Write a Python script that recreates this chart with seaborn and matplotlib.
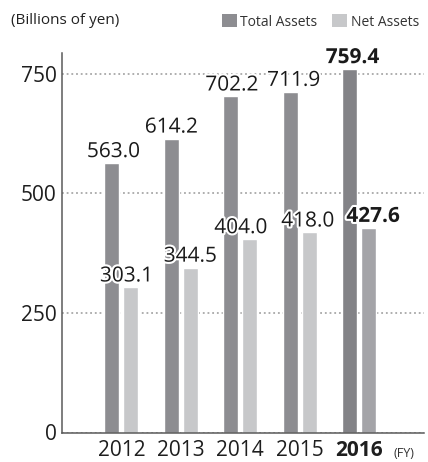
import matplotlib
matplotlib.use("Agg")
import matplotlib.pyplot as plt
import matplotlib.patheffects as pe
from matplotlib.patches import Patch
import seaborn as sns
import pandas as pd

years = ["2012", "2013", "2014", "2015", "2016"]
total_assets = [563.0, 614.2, 702.2, 711.9, 759.4]
net_assets = [303.1, 344.5, 404.0, 418.0, 427.6]
series = ["Total Assets", "Net Assets"]
y_ticks = [0, 250, 500, 750]

sns.set_theme(style="white")
plt.rcParams["font.family"] = ["Open Sans", "DejaVu Sans"]

df = pd.DataFrame({
    "year": years * 2,
    "series": [series[0]] * len(years) + [series[1]] * len(years),
    "value": total_assets + net_assets,
})

c_total, c_net = "#8d8d91", "#c7c8ca"
c_total_hl, c_net_hl = "#838387", "#a4a4a8"

# small horizontal nudges of the value labels (pixels), styling only
label_nudge = [[1.5, 0, 1, 3.5, 3], [-4.5, 0, -9, -1.5, 4.5]]

fig = plt.figure(figsize=(4.28, 4.62), dpi=100)
ax = fig.add_axes([62 / 428, 29.5 / 462, 362 / 428, 379.5 / 462])

sns.barplot(data=df, x="year", y="value", hue="series", order=years,
            hue_order=series, palette=[c_total, c_net], width=0.64, gap=0.21,
            legend=False, ax=ax, saturation=1)

ax.set_xlim(-1.0, 5.09)
ax.set_ylim(0, 793)
ax.set_yticks(y_ticks)
ax.set_xlabel("")
ax.set_ylabel("")

for s in ["top", "right"]:
    ax.spines[s].set_visible(False)
for s in ["left", "bottom"]:
    ax.spines[s].set_color("#5a5a5a")
    ax.spines[s].set_linewidth(1.1)

ax.yaxis.grid(True, color="#a8a8a8", linestyle=(0, (1, 1.6)), linewidth=1.3)
ax.set_axisbelow(True)
ax.tick_params(axis="both", length=0, labelsize=15, colors="#1e1e1e")
ax.tick_params(axis="y", pad=4)
ax.tick_params(axis="x", pad=5.5)
ax.set_xticks(range(len(years)))
ax.set_xticklabels(years)
for lbl in ax.get_xticklabels():
    if lbl.get_text() == "2016":
        lbl.set_fontweight("bold")

stroke = [pe.withStroke(linewidth=3, foreground="white")]
last = len(years) - 1
for ci, (cont, vals) in enumerate(zip(ax.containers, [total_assets, net_assets])):
    for i, (bar, v) in enumerate(zip(cont, vals)):
        if i == last:
            bar.set_facecolor(c_total_hl if ci == 0 else c_net_hl)
        ax.annotate(f"{v:.1f}", (bar.get_x() + bar.get_width() / 2, bar.get_height()),
                    xytext=(label_nudge[ci][i] * 0.72, 4.3), textcoords="offset points",
                    ha="center", va="baseline", fontsize=15, color="#1a1a1a",
                    fontweight="bold" if i == last else "normal",
                    path_effects=stroke, zorder=5)

handles = [Patch(facecolor=c_total, edgecolor="none"), Patch(facecolor=c_net, edgecolor="none")]
fig.legend(handles, series, loc="center left", bbox_to_anchor=(222 / 428, 1 - 22 / 462),
           ncol=2, frameon=False, fontsize=10, handlelength=1.05, handleheight=1.05,
           handletextpad=0.25, columnspacing=1.1, borderpad=0, borderaxespad=0,
           labelcolor="#333333")

fig.text(11 / 428, 1 - 21 / 462, "(Billions of yen)", fontsize=11, color="#222222",
         ha="left", va="center")
fig.text(393 / 428, 5 / 462, "(FY)", fontsize=9, color="#333333", ha="left", va="baseline")

fig.savefig("out.png", dpi=100)
